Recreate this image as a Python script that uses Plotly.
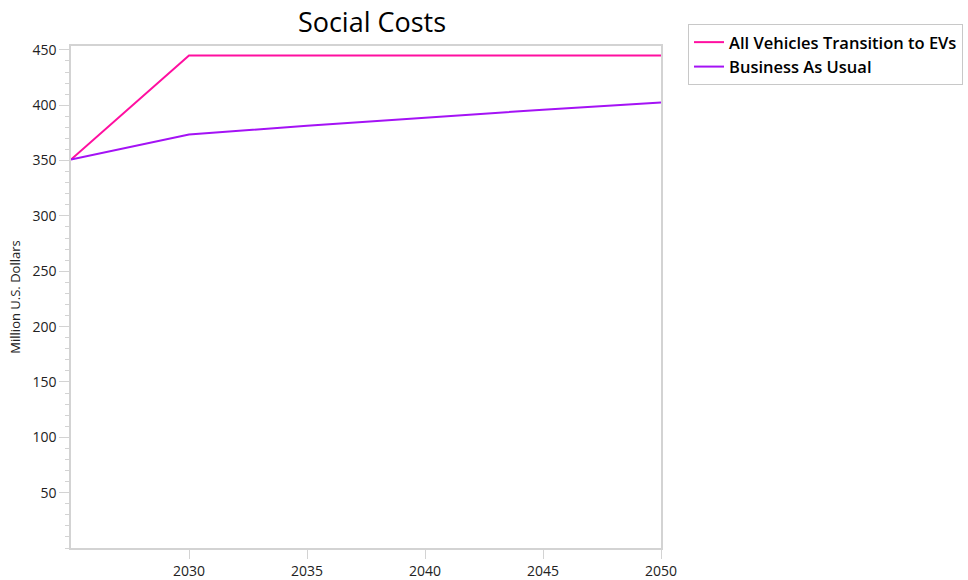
import plotly.graph_objects as go

# ---------------------- Data ----------------------
years = [2025, 2030, 2035, 2040, 2045, 2050]
ev_transition = [351, 445, 445, 445, 445, 445]
business_as_usual = [351, 373.5, 381.5, 389, 396, 402.5]

SERIES = [
    ("All Vehicles Transition to EVs", ev_transition, "#FF0FA0"),
    ("Business As Usual", business_as_usual, "#A412F5"),
]

AXIS_GREY = "#d3d3d3"
FONT = "Open Sans, Noto Sans, sans-serif"

fig = go.Figure()
for name, vals, color in SERIES:
    fig.add_trace(go.Scatter(
        x=years, y=vals, name=name, mode="lines",
        line=dict(color=color, width=2),
    ))

fig.update_layout(
    width=968, height=580,
    margin=dict(l=71, r=307, t=46, b=32, autoexpand=False),
    paper_bgcolor="white", plot_bgcolor="white",
    font=dict(family=FONT, size=13, color="#222"),
    title=dict(
        text="Social Costs", x=372 / 968, xanchor="center",
        y=1 - 23 / 580, yanchor="middle",
        font=dict(size=27, color="black"),
    ),
    legend=dict(
        x=1.0458, xanchor="left", y=1.044, yanchor="top",
        bordercolor="#c8c8c8", borderwidth=1,
        font=dict(size=16.5, color="black", family=FONT, weight=600),
        itemwidth=30, tracegroupgap=0,
    ),
    showlegend=True,
)

fig.update_xaxes(
    range=[2025, 2050], tickvals=[2030, 2035, 2040, 2045, 2050],
    showgrid=False, zeroline=False, automargin=False,
    showline=True, linecolor=AXIS_GREY, linewidth=1.5, mirror=True,
    ticks="outside", ticklen=9, tickcolor=AXIS_GREY,
    tickfont=dict(size=14),
)
fig.update_yaxes(
    range=[0, 453.5], tickvals=[50, 100, 150, 200, 250, 300, 350, 400, 450],
    showgrid=False, zeroline=False, automargin=False,
    showline=True, linecolor=AXIS_GREY, linewidth=1.5, mirror=True,
    ticks="outside", ticklen=10, tickcolor=AXIS_GREY,
    tickfont=dict(size=14),
    minor=dict(dtick=10, ticks="outside", ticklen=4, tickcolor=AXIS_GREY),
    title=dict(text="Million U.S. Dollars", font=dict(size=13), standoff=9),
)

# drop the default 8px body margin so the figure fills the window exactly
fig.write_html(
    "out.html",
    config={"displayModeBar": False},
    post_script="document.body.style.margin='0';",
)
